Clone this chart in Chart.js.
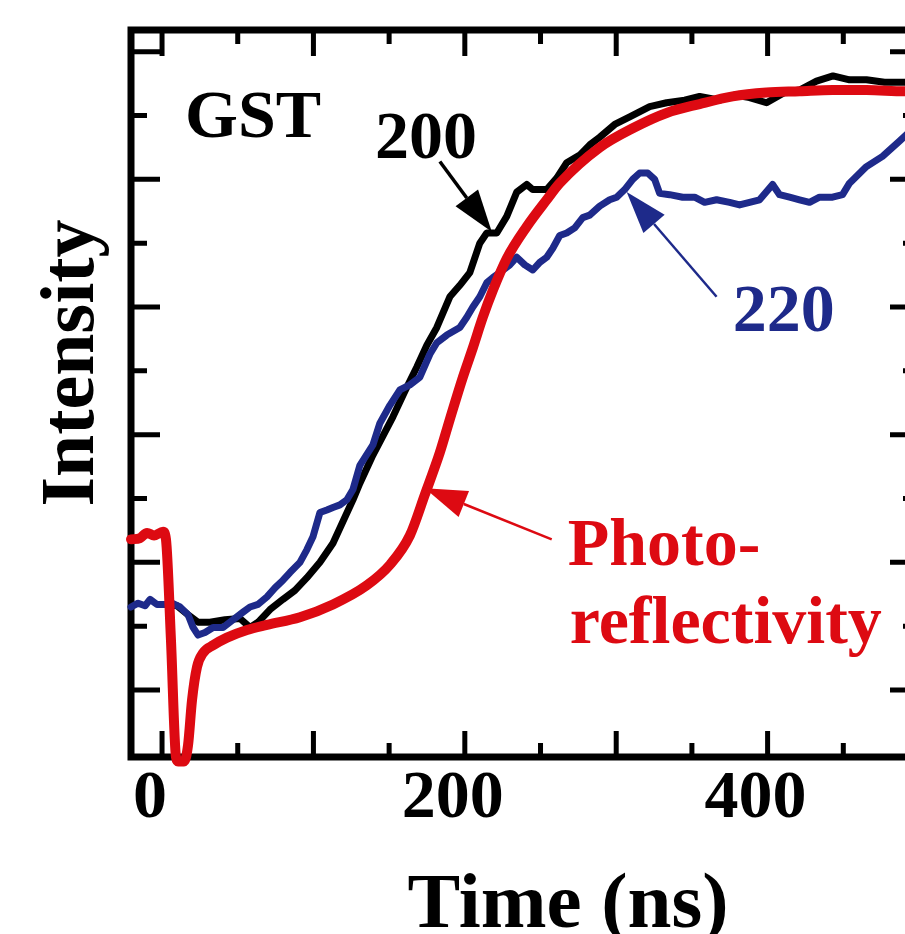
<!DOCTYPE html>
<html lang="en">
<head>
  <meta charset="UTF-8">
  <title>GST intensity vs time</title>
  <script src="https://cdn.jsdelivr.net/npm/chart.js@4.4.1/dist/chart.umd.min.js"></script>
  <style>
    html, body { margin: 0; padding: 0; background: #fff; overflow: hidden; }
    #wrap { width: 905px; height: 934px; overflow: hidden; }
    canvas { display: block; }
  </style>
</head>
<body>
  <div id="wrap">
    <canvas id="chart_gst" width="940" height="934"></canvas>
  </div>
  <script>
    // ---- data (time in ns, intensity in arbitrary units) ----
    var redTime = [-20.5, -14.5, -9.9, -5.3, 0.7, 2.6, 5.9, 9.2, 10.6, 14.5, 17.2, 19.8, 23.1, 27.1, 33.7, 42.9, 56.1, 69.3, 91.1, 112.9,
      135.3, 150.5, 163.7, 173.6, 183.5, 190.1, 198.7, 205.3, 211.9, 218.5, 227.7, 240.9, 254.1, 262.7, 289.1, 310.9, 333.3, 355.1,
      376.9, 399.3, 421.1, 442.9, 465.3, 490.4, 500];
    var redIntensity = [2.18, 2.19, 2.23, 2.21, 2.24, 2.18, 1.39, 0.475, 0.44, 0.44, 0.57, 0.92, 1.18, 1.29, 1.35, 1.41, 1.47, 1.51, 1.57, 1.67,
      1.82, 1.98, 2.21, 2.53, 2.86, 3.12, 3.45, 3.68, 3.92, 4.13, 4.38, 4.63, 4.84, 4.97, 5.25, 5.40, 5.52, 5.59,
      5.65, 5.68, 5.69, 5.70, 5.70, 5.69, 5.69];

    var blackTime = [2.0, 9.9, 17.2, 23.8, 31.7, 41.6, 51.5, 58.1, 63.4, 71.3, 79.9, 87.8, 95.7, 104.3, 112.9, 119.5, 126.1, 130.7, 139.3,
      152.5, 160.4, 168.3, 174.9, 181.5, 190.1, 196.7, 203.3, 209.9, 214.5, 221.1, 227.7, 234.3, 240.9, 244.9, 254.1, 260.7, 267.3,
      275.9, 282.5, 289.1, 299.0, 308.9, 322.1, 333.3, 345.2, 355.1, 368.3, 378.2, 388.1, 399.3, 411.2, 421.1, 432.3, 443.2, 454.1,
      465.3, 477.2, 490.4, 500];
    var blackIntensity = [1.67, 1.66, 1.59, 1.53, 1.53, 1.55, 1.56, 1.49, 1.53, 1.63, 1.71, 1.78, 1.88, 2.00, 2.15, 2.32, 2.49, 2.62, 2.84,
      3.14, 3.34, 3.53, 3.70, 3.84, 4.08, 4.17, 4.27, 4.50, 4.58, 4.58, 4.71, 4.90, 4.96, 4.92, 4.92, 5.01, 5.13,
      5.19, 5.27, 5.33, 5.43, 5.49, 5.57, 5.60, 5.62, 5.65, 5.62, 5.66, 5.64, 5.60, 5.68, 5.70, 5.77, 5.81, 5.78,
      5.78, 5.76, 5.76, 5.75];

    var blueTime = [-20.5, -15.8, -11.2, -7.9, -3.3, 2.0, 6.6, 11.9, 17.2, 20.5, 23.8, 28.4, 33.7, 40.3, 46.9, 53.5, 58.1, 63.4, 69.3,
      74.6, 79.9, 84.5, 91.1, 95.7, 99.7, 104.3, 108.9, 112.9, 117.5, 122.1, 126.1, 130.7, 139.3, 143.9, 150.5, 157.1, 163.7, 170.3,
      176.9, 181.5, 188.1, 196.7, 201.3, 205.3, 209.9, 214.5, 218.5, 223.1, 229.7, 234.3, 239.6, 244.9, 249.5, 254.1, 258.1, 262.7,
      267.3, 272.6, 277.9, 282.5, 289.1, 295.7, 300.3, 305.6, 310.9, 315.5, 320.8, 325.4, 328.7, 335.3, 343.9, 351.8, 358.4, 366.3,
      374.9, 381.5, 388.1, 394.7, 403.3, 407.9, 414.5, 421.1, 427.7, 434.3, 442.9, 449.5, 454.1, 465.3, 475.9, 487.1, 500];
    var blueIntensity = [1.65, 1.68, 1.66, 1.71, 1.67, 1.67, 1.68, 1.65, 1.59, 1.49, 1.43, 1.45, 1.49, 1.49, 1.55, 1.61, 1.65, 1.67, 1.73,
      1.80, 1.86, 1.92, 2.00, 2.10, 2.20, 2.39, 2.41, 2.43, 2.45, 2.49, 2.57, 2.76, 2.92, 3.09, 3.23, 3.35, 3.39, 3.45,
      3.63, 3.72, 3.78, 3.84, 3.92, 4.00, 4.08, 4.19, 4.23, 4.27, 4.33, 4.39, 4.33, 4.29, 4.35, 4.39, 4.46, 4.56,
      4.58, 4.62, 4.70, 4.72, 4.79, 4.84, 4.86, 4.92, 5.00, 5.05, 5.05, 5.00, 4.89, 4.88, 4.86, 4.86, 4.82, 4.84,
      4.82, 4.80, 4.82, 4.84, 4.96, 4.88, 4.86, 4.84, 4.82, 4.86, 4.86, 4.88, 4.97, 5.10, 5.18, 5.30, 5.44];

    var xTickLabels = [0, 200, 400];

    function pairs(xs, ys) {
      return xs.map(function (v, i) { return { x: v, y: ys[i] }; });
    }

    var SERIF = '"Liberation Serif", "Times New Roman", serif';
    var RED = '#dd0a12';
    var NAVY = '#1e2a8a';

    // annotation text / arrows, placed in data units
    var labels = [
      { text: 'GST', x: 15.2, y: 5.33, color: '#000' },
      { text: '200', x: 140.6, y: 5.17, color: '#000' },
      { text: '220', x: 376.9, y: 3.81, color: NAVY },
      { text: 'Photo-', x: 268.0, y: 1.98, color: RED },
      { text: 'reflectivity', x: 269.3, y: 1.37, color: RED }
    ];
    var arrows = [
      { from: [183.5, 5.14], to: [217.8, 4.59], color: '#000', width: 3.5 },
      { from: [366.3, 4.08], to: [306.9, 4.90], color: NAVY, width: 2.5 },
      { from: [257.4, 2.18], to: [173.6, 2.58], color: RED, width: 2.5 }
    ];

    function drawArrow(ctx, x1, y1, x2, y2, color, lw) {
      var ang = Math.atan2(y2 - y1, x2 - x1);
      var hl = 42, hw = 14;
      var bx = x2 - hl * Math.cos(ang), by = y2 - hl * Math.sin(ang);
      ctx.strokeStyle = color; ctx.fillStyle = color; ctx.lineWidth = lw;
      ctx.beginPath(); ctx.moveTo(x1, y1); ctx.lineTo(bx, by); ctx.stroke();
      ctx.beginPath();
      ctx.moveTo(x2, y2);
      ctx.lineTo(bx + hw * Math.sin(ang), by - hw * Math.cos(ang));
      ctx.lineTo(bx - hw * Math.sin(ang), by + hw * Math.cos(ang));
      ctx.closePath(); ctx.fill();
    }

    /* frame + inward ticks, under the curves */
    var framePlugin = {
      id: 'frame',
      beforeDatasetsDraw: function (chart) {
        var ctx = chart.ctx, a = chart.chartArea, xs = chart.scales.x, ys = chart.scales.y;
        ctx.save();
        ctx.strokeStyle = '#000';
        ctx.lineCap = 'butt';
        ctx.lineWidth = 5;
        for (var t = 0; t <= 500; t += 50) {
          var px = xs.getPixelForValue(t);
          var len = (t % 100 === 0) ? 26 : 14;
          ctx.beginPath();
          ctx.moveTo(px, a.bottom); ctx.lineTo(px, a.bottom - len);
          ctx.moveTo(px, a.top); ctx.lineTo(px, a.top + len);
          ctx.stroke();
        }
        for (var v = 1; v <= 6; v += 0.5) {
          var py = ys.getPixelForValue(v);
          var l2 = (v % 1 === 0) ? 29 : 16;
          ctx.beginPath();
          ctx.moveTo(a.left, py); ctx.lineTo(a.left + l2, py);
          ctx.moveTo(a.right, py); ctx.lineTo(a.right - l2, py);
          ctx.stroke();
        }
        ctx.lineWidth = 7;
        ctx.strokeRect(a.left, a.top, a.right - a.left, a.bottom - a.top);
        ctx.restore();
      },
      afterDatasetsDraw: function (chart) {
        var ctx = chart.ctx, xs = chart.scales.x, ys = chart.scales.y;
        ctx.save();
        // tick labels
        ctx.font = 'bold 68px ' + SERIF;
        ctx.fillStyle = '#000';
        ctx.textAlign = 'center';
        ctx.textBaseline = 'alphabetic';
        xTickLabels.forEach(function (t) {
          ctx.fillText(String(t), xs.getPixelForValue(t) - 12, 817);
        });
        // axis titles
        ctx.font = 'bold 79px ' + SERIF;
        ctx.fillText('Time (ns)', 568, 927);
        ctx.save();
        ctx.translate(93, 363);
        ctx.rotate(-Math.PI / 2);
        ctx.font = 'bold 76px ' + SERIF;
        ctx.fillText('Intensity', 0, 0);
        ctx.restore();
        // annotations
        ctx.textAlign = 'left';
        ctx.font = 'bold 68px ' + SERIF;
        labels.forEach(function (l) {
          ctx.fillStyle = l.color;
          ctx.fillText(l.text, xs.getPixelForValue(l.x), ys.getPixelForValue(l.y));
        });
        arrows.forEach(function (ar) {
          drawArrow(ctx, xs.getPixelForValue(ar.from[0]), ys.getPixelForValue(ar.from[1]),
            xs.getPixelForValue(ar.to[0]), ys.getPixelForValue(ar.to[1]), ar.color, ar.width);
        });
        ctx.restore();
      }
    };

    var ctx = document.getElementById('chart_gst').getContext('2d');
    var chart = new Chart(ctx, {
      type: 'line',
      data: {
        datasets: [
          { label: '200', data: pairs(blackTime, blackIntensity), borderColor: '#000', borderWidth: 7, order: 3 },
          { label: '220', data: pairs(blueTime, blueIntensity), borderColor: NAVY, borderWidth: 7, order: 2 },
          { label: 'Photo-reflectivity', data: pairs(redTime, redIntensity), borderColor: RED, borderWidth: 10,
            cubicInterpolationMode: 'monotone', order: 1 }
        ]
      },
      options: {
        responsive: false,
        animation: false,
        events: [],
        layout: { padding: { left: 131, right: 21, top: 30, bottom: 177 } },
        elements: {
          point: { radius: 0 },
          line: { tension: 0, borderJoinStyle: 'round', borderCapStyle: 'round', fill: false }
        },
        datasets: { line: { clip: false } },
        scales: {
          x: { type: 'linear', min: -20.5, max: 500, display: false },
          y: { type: 'linear', min: 0.475, max: 6.17, display: false }
        },
        plugins: { legend: { display: false }, tooltip: { enabled: false } }
      },
      plugins: [framePlugin]
    });
  </script>
</body>
</html>
